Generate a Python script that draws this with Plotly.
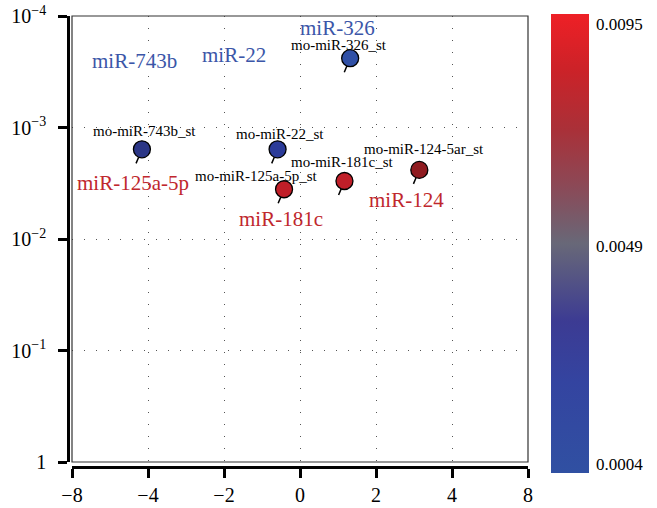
import numpy as np
import plotly.graph_objects as go

# ---------------- data ----------------
probes = ["mo-miR-743b_st", "mo-miR-22_st", "mo-miR-326_st",
          "mo-miR-125a-5p_st", "mo-miR-181c_st", "mo-miR-124-5ar_st"]
genes = ["miR-743b", "miR-22", "miR-326", "miR-125a-5p", "miR-181c", "miR-124"]
log_fc = [-4.16, -0.59, 1.32, -0.42, 1.17, 3.14]
p_values = [1.57e-3, 1.57e-3, 2.39e-4, 3.58e-3, 3.02e-3, 2.40e-3]

x_tickvals = [-6, -4, -2, 0, 2, 4, 6]
x_ticktext = ["\u22128", "\u22124", "\u22122", "0", "2", "4", "8"]
y_tickvals = [1e-4, 1e-3, 1e-2, 1e-1, 1]
y_ticktext = ["10<sup>\u22124</sup>", "10<sup>\u22123</sup>", "10<sup>\u22122</sup>",
              "10<sup>\u22121</sup>", "1"]
cbar_tickvals = [0.0004, 0.0049, 0.0095]
cbar_ticktext = ["0.0004", "0.0049", "0.0095"]

# ---------------- styles ----------------
point_colors = ["#2b3686", "#2b3b99", "#3050a6", "#c01e28", "#c01f29", "#8f1b20"]
gene_colors = ["#3b56a8", "#3b56a8", "#3b56a8", "#c0272d", "#c0272d", "#c0272d"]
probe_shift = [(2.5, 18.5), (2, 15), (-11, 13), (-28, 13), (-2, 19), (5, 21)]
gene_shift = [(-7, 88), (-44, 94), (-13, 30), (-151, 6), (-63, -38), (-13, -30)]
SERIF = "Liberation Serif"

colorscale = [
    [0.0, "#3050a2"], [0.2, "#3444a0"], [0.33, "#3c3b93"], [0.5, "#686878"],
    [0.62, "#8a4a58"], [0.75, "#aa3038"], [0.88, "#cc2228"], [1.0, "#ee2026"],
]

fig = go.Figure()
fig.add_trace(go.Scatter(
    x=log_fc, y=p_values, mode="markers",
    marker=dict(size=17, color=point_colors, line=dict(color="black", width=1.3)),
    showlegend=False, hoverinfo="skip",
))
# colour bar carrier
fig.add_trace(go.Scatter(
    x=[None], y=[None], mode="markers", showlegend=False, hoverinfo="skip",
    marker=dict(
        color=[cbar_tickvals[0]], colorscale=colorscale, cmin=0.000214, cmax=0.0097,
        showscale=True,
        colorbar=dict(
            x=(551 - 68) / 460, xanchor="left", xpad=0,
            y=(467 - 14) / 451, yanchor="top", ypad=0,
            len=459, lenmode="pixels", thickness=38, thicknessmode="pixels",
            outlinewidth=0, ticks="outside", ticklen=4, tickcolor="rgba(0,0,0,0)",
            tickvals=cbar_tickvals, ticktext=cbar_ticktext,
            tickfont=dict(family=SERIF, size=17, color="black"),
        ),
    ),
))

annotations = []
for i in range(len(probes)):
    xv = log_fc[i]
    yv = float(np.log10(p_values[i]))
    annotations.append(dict(
        x=xv, y=yv, xref="x", yref="y", text="", showarrow=True, arrowhead=0,
        arrowwidth=1.5, arrowcolor="black", ax=-6.5, ay=15.5, standoff=8.5,
    ))
    annotations.append(dict(
        x=xv, y=yv, xref="x", yref="y", text=probes[i], showarrow=False,
        xshift=probe_shift[i][0], yshift=probe_shift[i][1],
        font=dict(family=SERIF, size=15, color="black"),
    ))
    annotations.append(dict(
        x=xv, y=yv, xref="x", yref="y", text=genes[i], showarrow=False,
        xshift=gene_shift[i][0], yshift=gene_shift[i][1],
        font=dict(family=SERIF, size=21, color=gene_colors[i]),
    ))

fig.update_layout(
    width=657, height=508,
    margin=dict(l=68, r=129, t=16, b=41, pad=0, autoexpand=False),
    paper_bgcolor="white", plot_bgcolor="white",
    font=dict(family=SERIF, color="black"),
    annotations=annotations,
    xaxis=dict(
        domain=[4 / 460, 1], anchor="free", position=0, automargin=False,
        range=[-6, 6], tickvals=x_tickvals, ticktext=x_ticktext,
        showline=True, linewidth=2.5, linecolor="black",
        ticks="outside", ticklen=9, tickwidth=2.5, tickcolor="black",
        tickfont=dict(family=SERIF, size=20, color="black"),
        showgrid=True, gridcolor="#555555", gridwidth=1, griddash="1px,11px",
        zeroline=False,
    ),
    yaxis=dict(
        domain=[5 / 451, 1], anchor="free", position=0, automargin=False,
        type="log", range=[0, -4], tickvals=y_tickvals, ticktext=y_ticktext,
        showline=True, linewidth=2.5, linecolor="black",
        ticks="outside", ticklen=9, tickwidth=2.5, tickcolor="black",
        ticklabelstandoff=8,
        tickfont=dict(family=SERIF, size=20, color="black"),
        showgrid=True, gridcolor="#555555", gridwidth=1, griddash="1px,11px",
        zeroline=False,
    ),
    shapes=[dict(type="rect", xref="x domain", yref="y domain", x0=0, x1=1, y0=0, y1=1,
                 line=dict(color="#333333", width=1.2), layer="above")],
)

# remove the page's default 8px body margin so the figure fills the window
fig.write_html("out.html", config={"displayModeBar": False},
               post_script="document.body.style.margin='0';")
